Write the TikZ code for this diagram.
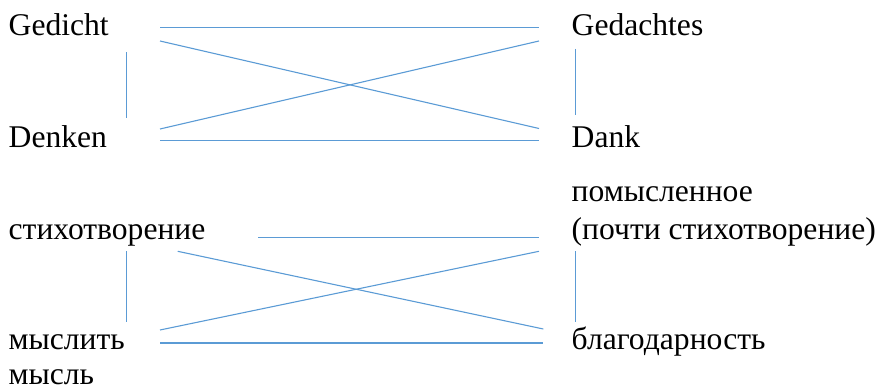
\documentclass[tikz,border=0pt]{standalone}
\usepackage{fontspec}
\setmainfont{Liberation Serif}
\usetikzlibrary{calc}
\definecolor{linkblue}{HTML}{5B9BD5}

\begin{document}
\begin{tikzpicture}[x=1pt,y=1pt,
    word/.style={anchor=base west, inner sep=0pt, font=\fontsize{31.6}{38}\selectfont},
    link/.style={draw=linkblue, line width=1.1pt}]
          \useasboundingbox (0,0) rectangle (886,388);

          % German words
          \node [word] (gedicht) at (8.5,352) {Gedicht};
          \node [word] (denken) at (8.5,240.3) {Denken};
          \node [word] (gedachtes) at (571.5,352) {Gedachtes};
          \node [word] (dank) at (571.5,240.3) {Dank};

          % Russian words
          \node [word] (stich) at (8.5,148) {стихотворение};
          \node [word] (myslit) at (8.5,38.7) {мыслить};
          \node [word] (mysl) at (8.5,3) {мысль};
          \node [word] (pomysl) at (571.5,186) {помысленное};
          \node [word] (pochti) at (571.5,148) {(почти стихотворение)};
          \node [word] (blago) at (571.5,38.7) {благодарность};

          % line ends, upper square
          \coordinate (g1) at (160,360.3); \coordinate (g2) at (539,360.3);
          \coordinate (g3) at (160,347);   \coordinate (g4) at (539,259.5);
          \coordinate (g5) at (160,259);   \coordinate (g6) at (539,347);
          \coordinate (g7) at (160,247.7); \coordinate (g8) at (539,247.7);
          \coordinate (g9) at (126.7,335.7); \coordinate (g10) at (126.7,269.7);
          \coordinate (g11) at (575.7,339);  \coordinate (g12) at (575.7,273);

          % line ends, lower square
          \coordinate (r1) at (258,150.3);   \coordinate (r2) at (539,150.3);
          \coordinate (r3) at (177.7,136.7); \coordinate (r4) at (543.3,59);
          \coordinate (r5) at (160,58);      \coordinate (r6) at (539,136.7);
          \coordinate (r7) at (160,45);      \coordinate (r8) at (543.3,45);
          \coordinate (r9) at (126.7,136.7); \coordinate (r10) at (126.7,65.7);
          \coordinate (r11) at (575.7,136.7); \coordinate (r12) at (575.7,66.3);

          \draw [link] (g1) -- (g2);
          \draw [link] (g3) -- (g4);
          \draw [link] (g5) -- (g6);
          \draw [link] (g7) -- (g8);
          \draw [link] (g9) -- (g10);
          \draw [link] (g11) -- (g12);

          \draw [link] (r1) -- (r2);
          \draw [link] (r3) -- (r4);
          \draw [link] (r5) -- (r6);
          \draw [link] (r7) -- (r8);
          \draw [link] (r9) -- (r10);
          \draw [link] (r11) -- (r12);
        \end{tikzpicture}
\end{document}
